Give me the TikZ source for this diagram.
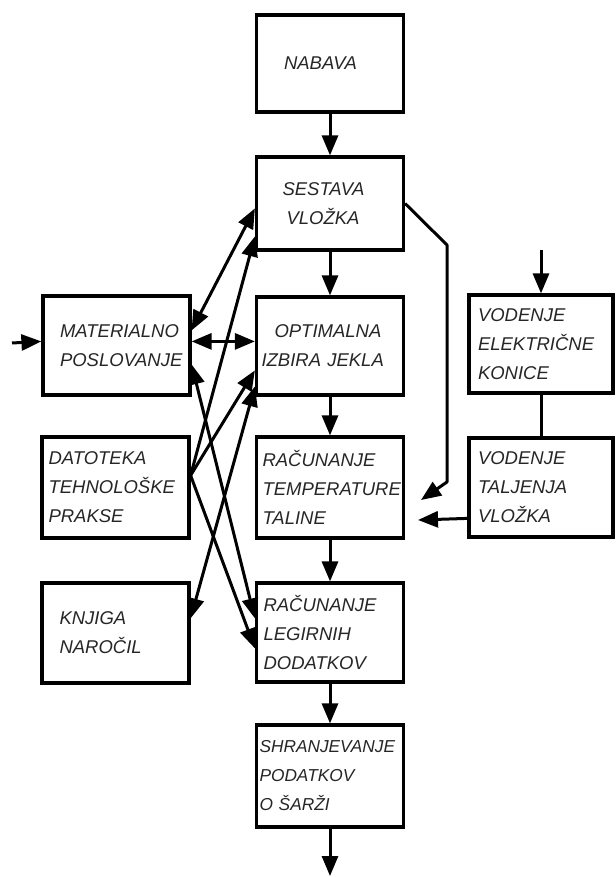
\documentclass[tikz,border=0pt]{standalone}
\usepackage{fontspec}
\setmainfont{Liberation Sans}
\usetikzlibrary{arrows.meta,calc}
\begin{document}
\begin{tikzpicture}[x=1pt,y=-1pt,
  box/.style={draw, line width=3.2pt, minimum width=147pt, inner xsep=0pt, inner ysep=0pt,
    align=left, font=\fontsize{18.5}{29}\selectfont\itshape, text=black!85},
  conn/.style={line width=3pt},
  arr/.style={conn, -{Triangle[length=20pt,width=16pt]}},
  dbl/.style={conn, {Triangle[length=20pt,width=16pt]}-{Triangle[length=20pt,width=16pt]}}
]
\useasboundingbox (0,0) rectangle (615,877);

% centre column
\node[box, minimum height=97pt, text width=92pt] (nab) at (330,63.5) {NABAVA};
\node[box, minimum height=93pt, text width=95pt] (ses) at (330,203.5) {SESTAVA\\\hspace*{4pt}VLOŽKA};
\node[box, minimum height=98pt, text width=137pt] (opt) at (330,346) {\hspace*{13pt}OPTIMALNA\\IZBIRA JEKLA};
\node[box, minimum height=101pt, text width=135pt] (rac) at (330,487.5) {RAČUNANJE\\TEMPERATURE\\TALINE};
\node[box, minimum height=99pt, text width=133pt] (leg) at (330,632.5) {RAČUNANJE\\LEGIRNIH\\DODATKOV};
\node[box, minimum height=102pt, text width=141pt, font=\fontsize{17.3}{29}\selectfont\itshape] (shr) at (330,776) {SHRANJEVANJE\\PODATKOV\\O ŠARŽI};

% left column
\node[box, minimum height=99pt, text width=113pt] (mat) at (116.5,345.5) {MATERIALNO\\POSLOVANJE};
\node[box, minimum height=101pt, text width=134pt] (dat) at (115.5,487.5) {DATOTEKA\\TEHNOLOŠKE\\PRAKSE};
\node[box, minimum height=100pt, text width=112pt] (knj) at (115.5,633) {KNJIGA\\NAROČIL};

% right column
\node[box, minimum width=144pt, minimum height=98pt, text width=126pt] (vel) at (541,344) {VODENJE\\ELEKTRIČNE\\KONICE};
\node[box, minimum width=144pt, minimum height=99pt, text width=126pt] (vtal) at (541,487.5) {VODENJE\\TALJENJA\\VLOŽKA};

% free ends and bends
\coordinate (velin) at (541,250);
\coordinate (matin) at (12,343);
\coordinate (out) at (330,876);
\coordinate (tipA) at (418,520);
\coordinate (bendA) at (447,245);
\coordinate (bendB) at (447,482);
\coordinate (tipB) at (421,500);

% main flow
\draw[arr] (nab) -- (ses);
\draw[arr] (ses) -- (opt);
\draw[arr] (opt) -- (rac);
\draw[arr] (rac) -- (leg);
\draw[arr] (leg) -- (shr);
\draw[arr] (shr) -- (out);

% right side
\draw[arr] (velin) -- (vel.north);
\draw[conn] (vel) -- (vtal);
\draw[arr] ($(vtal.north west)+(0,82)$) -- (tipA);
\draw[arr, line join=round] (ses.east) -- (bendA) -- (bendB) -- (tipB);

% input to materialno
\draw[arr] (matin) -- ($(mat.north west)+(0,47)$);

% crossing connectors
\draw[dbl] ($(mat.north east)+(0,36)$) -- ($(ses.north west)+(0,53)$);
\draw[dbl] ($(mat.north east)+(0,47)$) -- ($(opt.north west)+(0,46)$);
\draw[dbl] ($(mat.north east)+(0,70)$) -- ($(leg.north west)+(0,37)$);
\draw[arr] ($(dat.north east)+(0,40)$) -- ($(ses.north west)+(0,81)$);
\draw[arr] ($(dat.north east)+(0,40)$) -- ($(opt.north west)+(0,75)$);
\draw[arr] ($(dat.north east)+(0,40)$) -- ($(leg.north west)+(0,67)$);
\draw[dbl] ($(knj.north east)+(0,37)$) -- ($(opt.north west)+(0,91)$);
\end{tikzpicture}
\end{document}
